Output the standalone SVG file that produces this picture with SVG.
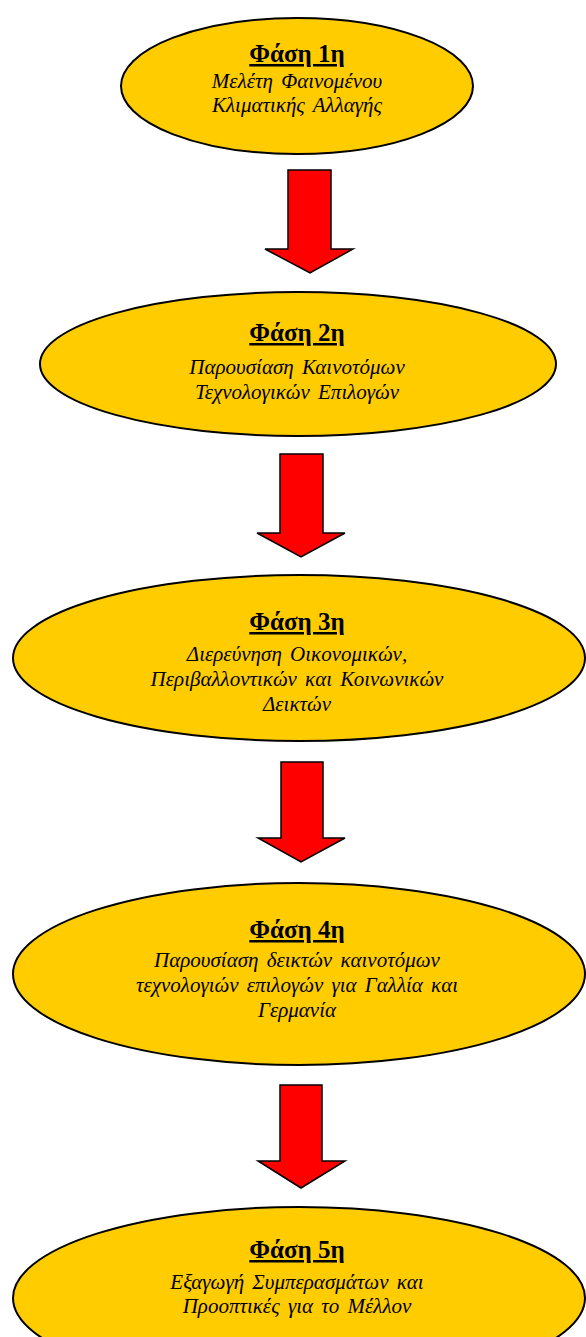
<svg xmlns="http://www.w3.org/2000/svg" width="586" height="1337" viewBox="0 0 586 1337">
<style>
.ell{fill:#FFCC00;stroke:#000;stroke-width:2}
.arr{fill:#FF0000;stroke:#000;stroke-width:1.5;stroke-linejoin:miter}
.t{font-family:"Liberation Serif","DejaVu Serif",serif;font-weight:bold;font-size:25px;text-decoration:underline;text-anchor:middle;fill:#000}
.b{font-family:"Liberation Serif","DejaVu Serif",serif;font-style:italic;font-size:21px;word-spacing:3px;text-anchor:middle;fill:#000}
</style>
<rect width="586" height="1337" fill="#fff"/>
<g id="connectors">
<polygon class="arr" points="288,170 331,170 331,249 353,249 310,273 265,249 288,249"/>
<polygon class="arr" points="280,454 323,454 323,533 345,533 301,557 257,533 280,533"/>
<polygon class="arr" points="281,762 323,762 323,838 345,838 301,862 258,838 281,838"/>
<polygon class="arr" points="280,1085 322,1085 322,1161 345,1161 301,1188 258,1161 280,1161"/>
</g>
<g id="phase1">
<ellipse class="ell" cx="297" cy="86" rx="176" ry="68"/>
<text class="t" x="297" y="62">Φάση 1η</text>
<text class="b" x="297" y="88">Μελέτη Φαινομένου</text>
<text class="b" x="297" y="112">Κλιματικής Αλλαγής</text>
</g>
<g id="phase2">
<ellipse class="ell" cx="298" cy="364" rx="258" ry="72"/>
<text class="t" x="297" y="341">Φάση 2η</text>
<text class="b" x="297" y="374">Παρουσίαση Καινοτόμων</text>
<text class="b" x="297" y="399">Τεχνολογικών Επιλογών</text>
</g>
<g id="phase3">
<ellipse class="ell" cx="299" cy="658" rx="286" ry="83"/>
<text class="t" x="297" y="630">Φάση 3η</text>
<text class="b" x="297" y="661">Διερεύνηση Οικονομικών,</text>
<text class="b" x="297" y="686">Περιβαλλοντικών και Κοινωνικών</text>
<text class="b" x="297" y="711">Δεικτών</text>
</g>
<g id="phase4">
<ellipse class="ell" cx="299" cy="974" rx="286" ry="91"/>
<text class="t" x="297" y="938">Φάση 4η</text>
<text class="b" x="297" y="967">Παρουσίαση δεικτών καινοτόμων</text>
<text class="b" x="297" y="992">τεχνολογιών επιλογών για Γαλλία και</text>
<text class="b" x="297" y="1017">Γερμανία</text>
</g>
<g id="phase5">
<ellipse class="ell" cx="299" cy="1298" rx="286" ry="91"/>
<text class="t" x="297" y="1258">Φάση 5η</text>
<text class="b" x="297" y="1289">Εξαγωγή Συμπερασμάτων και</text>
<text class="b" x="297" y="1313">Προοπτικές για το Μέλλον</text>
</g>
</svg>
